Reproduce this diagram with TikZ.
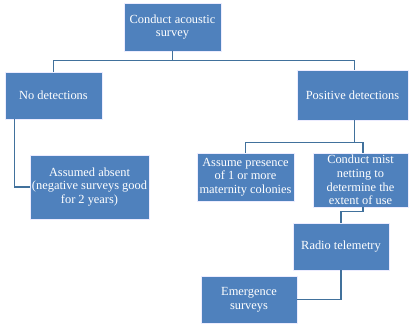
\documentclass[tikz,border=0pt]{standalone}
\usepackage{fontspec}
\setmainfont{Liberation Serif}
\begin{document}
\begin{tikzpicture}[x=1pt,y=1pt,
  box/.style={draw=white!75!blue!30, line width=0.6pt, fill=boxblue, text=white, align=center, inner sep=0pt,
    font=\fontsize{12.4}{13.6}\selectfont},
  conn/.style={draw=connblue, line width=1.4pt}]
\definecolor{boxblue}{HTML}{4F81BD}
\definecolor{connblue}{HTML}{41719C}
\useasboundingbox (0,0) rectangle (409,325);
\node[box, minimum width=97, minimum height=48] (top) at (172.5,298) {Conduct acoustic\\survey};
\node[box, minimum width=97, minimum height=47] (no) at (53.5,229.5) {No detections};
\node[box, minimum width=111, minimum height=50] (pos) at (352.5,230) {Positive detections};
\node[box, minimum width=119, minimum height=64] (abs) at (89.5,138) {Assumed absent\\(negative surveys good\\for 2 years)};
\node[box, minimum width=97, minimum height=48] (assume) at (245.5,148) {Assume presence\\of 1 or more\\maternity colonies};
\node[box, minimum width=95, minimum height=54] (mist) at (360.5,145) {Conduct mist\\netting to\\determine the\\extent of use};
\node[box, minimum width=96, minimum height=47] (radio) at (341,78.5) {Radio telemetry};
\node[box, minimum width=96, minimum height=47] (emerg) at (249,25.5) {Emergence\\surveys};
\draw[conn] (top.south) -- ++(0,-9) -| (no.north);
\draw[conn] (top.south) -- ++(0,-9) -| ([xshift=2pt]pos.north);
\draw[conn] ([xshift=-9pt]no.south) ++(-30,0) |- (abs.west);
\draw[conn] ([xshift=2pt]pos.south) -- ++(0,-22) -| (assume.north);
\draw[conn] ([xshift=2pt]pos.south) -- ++(0,-22) -| ([xshift=2.5pt]mist.north);
\draw[conn] ([xshift=2.5pt]mist.south) -- ++(0,-4) -| (radio.north);
\draw[conn] (radio.south) |- (emerg.east);
\end{tikzpicture}
\end{document}
